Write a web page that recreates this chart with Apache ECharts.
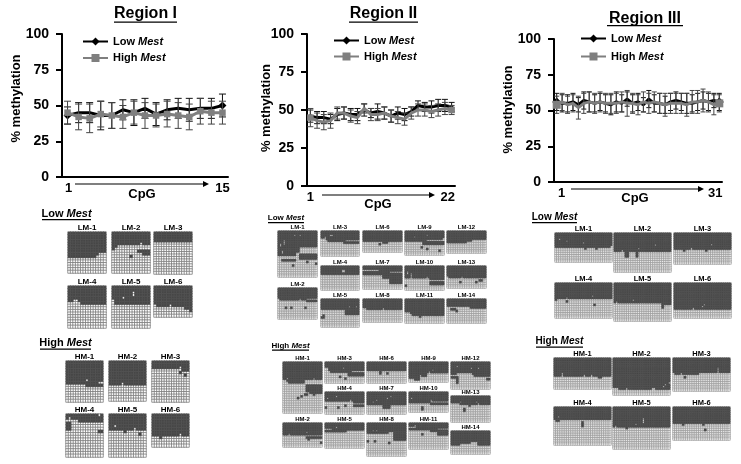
<!DOCTYPE html>
<html>
<head>
<meta charset="utf-8">
<title>Region I-III methylation</title>
<script src="https://cdn.jsdelivr.net/npm/echarts@6/dist/echarts.min.js"></script>
<style>
  html, body { margin: 0; padding: 0; background: #fff; }
  #chart { width: 741px; height: 464px; }
</style>
</head>
<body>
<div id="chart"></div>
<script>
// Line chart values
const cpgI = ['1','2','3','4','5','6','7','8','9','10','11','12','13','14','15'];
const lowI = [43,45,45,43,43,47,45,48,44,47,48,47,48,48,50];
const lowErrI = [6,7,7,10,9,7,9,7,8,7,7,8,7,7,8];
const highI = [45,42,41,44,43,42,45,43,43,44,43,42,46,45,45];
const highErrI = [8,9,10,9,9,8,8,9,8,9,9,9,9,8,8];

const cpgII = ['1','2','3','4','5','6','7','8','9','10','11','12','13','14','15','16','17','18','19','20','21','22'];
const lowII = [46,45,45,44,47,48,47,47,50,48,49,48,46,48,47,49,53,52,52,53,53,52];
const lowErrII = [4,4,4,3,4,4,4,4,4,3,5,4,4,4,4,3,3,3,4,4,4,3];
const highII = [45,43,42,43,48,48,46,45,51,47,47,48,46,45,44,48,50,50,49,50,51,50];
const highErrII = [6,5,5,5,4,4,4,4,3,4,4,4,4,4,4,4,4,4,4,4,4,3];

const cpgIII = ['1','2','3','4','5','6','7','8','9','10','11','12','13','14','15','16','17','18','19','20','21','22','23','24','25','26','27','28','29','30','31'];
const lowIII = [56,55,55,56,54,57,56,55,56,55,54,56,55,58,55,56,54,58,55,55,54,56,57,56,55,55,56,57,56,57,56];
const lowErrIII = [6,6,6,6,5,6,7,6,6,6,7,7,6,5,6,6,5,6,6,7,6,6,6,6,7,6,6,6,6,5,6];
const highIII = [54,56,54,55,52,55,56,55,56,55,55,55,56,55,55,54,56,55,56,55,54,55,55,55,54,56,56,57,56,54,55];
const highErrIII = [6,6,6,6,8,7,7,7,7,7,7,7,7,9,7,7,7,7,7,7,8,7,7,7,8,8,8,8,7,7,6];

// Bisulfite clone panels: [name, rows, runs of [columns, methylated rows from the top], toggled cells [c0,c1,r0,r1]]
const panelsI = [
  ['LM-1',16,[[11,10],[1,9],[3,8]],[]],
  ['LM-2',16,[[1,7],[1,6],[13,5]],[[11,11,4,4],[10,14,7,7],[12,14,8,8],[7,7,9,9]]],
  ['LM-3',17,[[15,4]],[]],
  ['LM-4',16,[[2,6],[2,5],[1,6],[10,7]],[]],
  ['LM-5',16,[[1,5],[14,7]],[[4,4,4,4],[8,8,2,3]]],
  ['LM-6',12,[[1,7],[11,8],[2,9],[1,10]],[[6,6,7,7]]],
  ['HM-1',16,[[8,9],[7,10]],[[8,8,7,7],[13,14,8,8]]],
  ['HM-2',15,[[15,9]],[[5,5,8,8]]],
  ['HM-3',16,[[12,3],[3,4]],[[11,11,2,2],[11,11,4,4],[13,13,5,5]]],
  ['HM-4',16,[[15,3]],[[1,1,1,1],[0,4,2,2],[0,1,3,5],[13,13,0,0],[13,14,6,6]]],
  ['HM-5',16,[[15,6]],[[2,2,4,4],[10,10,5,5],[6,6,6,6],[12,12,7,7]]],
  ['HM-6',12,[[15,8]],[[11,11,7,7],[3,3,8,8]]],
];
const panelsII = [
  ['LM-1',26,[[10,14],[2,12],[10,9]],[[3,3,5,7],[1,1,7,8],[2,2,11,12],[9,9,2,2],[12,12,2,2],[2,9,16,16],[12,21,13,15],[8,8,19,19],[16,16,17,17],[21,21,18,18]]],
  ['LM-2',18,[[1,6],[15,7],[6,8]],[[16,21,6,6],[4,4,11,11],[7,7,11,11],[15,15,11,11],[12,12,6,6]]],
  ['LM-3',14,[[3,4],[1,5],[10,6],[8,7]],[[14,21,5,5],[2,2,3,3],[5,6,2,2],[13,13,6,6]]],
  ['LM-4',14,[[22,5]],[[12,13,2,3]]],
  ['LM-5',16,[[14,6],[8,9]],[[16,16,4,4],[20,20,4,4],[0,1,10,10],[1,1,9,9]]],
  ['LM-6',12,[[11,6],[3,7],[8,6]],[[9,9,7,7]]],
  ['LM-7',13,[[11,5],[4,7],[7,10]],[[0,8,2,2],[15,21,3,3]]],
  ['LM-8',13,[[2,5],[20,6]],[[11,11,5,5]]],
  ['LM-9',14,[[10,6],[12,8]],[[12,21,5,5],[5,5,3,3],[12,12,2,2],[9,9,9,9],[12,12,10,10],[19,19,11,11],[21,21,4,4]]],
  ['LM-10',14,[[14,7],[8,11]],[[1,1,3,4],[3,3,4,6],[12,12,6,6],[14,21,8,8],[0,0,11,11]]],
  ['LM-11',13,[[3,7],[1,8],[18,9]],[[8,8,9,9]]],
  ['LM-12',13,[[11,7],[3,6],[8,5]],[]],
  ['LM-13',13,[[1,6],[21,7]],[[8,8,6,6],[7,7,9,9],[16,16,9,9],[18,19,8,8]]],
  ['LM-14',13,[[13,4],[9,5]],[[2,4,5,5],[5,5,6,6]]],
  ['HM-1',29,[[2,10],[1,11],[9,12],[10,10]],[[2,2,9,9],[13,21,13,16],[15,21,17,17],[8,8,20,20],[10,10,19,19],[12,13,18,18],[17,17,18,18],[17,17,9,9]]],
  ['HM-2',14,[[13,7],[9,9]],[[13,21,7,7],[3,3,6,6],[13,13,5,5],[14,14,9,9],[21,21,11,11]]],
  ['HM-3',12,[[2,3],[1,5],[10,6],[9,8]],[[15,21,5,5],[10,10,3,3],[8,8,8,8],[11,11,9,9]]],
  ['HM-4',12,[[16,5],[6,8]],[[16,21,6,6],[1,1,3,3],[6,6,2,2],[0,0,8,8],[7,7,8,8],[11,11,7,7],[14,14,4,4]]],
  ['HM-5',14,[[12,5],[10,4]],[[3,3,3,3],[6,6,2,2],[0,2,3,3]]],
  ['HM-6',12,[[22,5]],[[7,7,5,6],[11,11,6,6]]],
  ['HM-7',12,[[9,7],[4,9],[9,7]],[[3,3,5,5],[5,5,4,4],[11,11,3,3],[13,13,2,2]]],
  ['HM-8',19,[[12,6],[3,5],[7,10]],[[3,3,4,4],[5,5,4,4],[0,0,10,10],[4,4,10,10],[12,12,11,11]]],
  ['HM-9',11,[[3,9],[3,10],[4,8],[12,6]],[[6,6,7,7],[11,11,5,5],[13,13,4,4]]],
  ['HM-10',11,[[12,6],[10,7]],[[1,1,3,3],[12,21,5,5],[7,7,8,9],[12,12,4,4]]],
  ['HM-11',15,[[12,4],[4,5],[6,7]],[[0,3,2,2],[3,3,1,1],[16,21,3,3],[7,7,6,6]]],
  ['HM-12',15,[[13,7],[9,8]],[[3,3,2,2],[11,11,3,3],[15,15,3,3],[3,11,6,6],[0,3,8,8],[3,3,9,11],[20,21,9,9]]],
  ['HM-13',15,[[5,4],[17,5]],[[5,5,3,3],[7,7,7,8],[10,10,5,5],[14,14,3,3],[15,15,4,4]]],
  ['HM-14',13,[[11,7],[4,6],[7,8]],[[0,4,7,7]]],
];
const panelsIII = [
  ['LM-1',16,[[31,8]],[[2,2,3,3],[6,6,4,4],[15,15,5,5],[30,30,7,7],[16,16,8,8],[22,22,8,8]]],
  ['LM-2',21,[[31,10]],[[4,4,9,9],[13,13,8,8],[22,22,6,6],[6,7,10,12],[12,12,10,12]]],
  ['LM-3',17,[[31,9]],[[5,5,9,9],[17,17,9,9],[9,9,8,8],[20,20,6,6]]],
  ['LM-4',20,[[31,9]],[[0,0,9,9],[6,6,10,10],[6,6,8,8],[20,20,7,7],[21,21,12,12]]],
  ['LM-5',21,[[26,11],[5,12]],[[1,1,10,10],[10,10,9,9],[26,26,12,13]]],
  ['LM-6',20,[[31,15]],[[10,10,14,14],[15,15,13,13],[16,16,12,12]]],
  ['HM-1',17,[[31,10]],[[4,4,8,9],[16,16,9,9],[20,20,9,9],[24,25,10,10]]],
  ['HM-2',20,[[3,16],[28,17]],[[7,7,16,16],[21,21,16,16],[27,27,15,15],[28,28,14,14],[30,30,13,13],[22,22,16,16]]],
  ['HM-3',18,[[14,9],[17,8]],[[4,4,8,8],[0,0,8,8],[6,6,10,10],[24,24,5,7]]],
  ['HM-4',21,[[31,7]],[[1,2,7,7],[2,2,5,5],[15,15,8,10]]],
  ['HM-5',23,[[31,11]],[[1,1,10,10],[12,12,9,9],[16,16,6,8],[7,7,11,11]]],
  ['HM-6',18,[[31,9]],[[5,5,9,9],[16,16,9,9],[17,17,12,12]]],
];

// Panel boxes in pixels, same order as the panels: [left, top, width, height]
const boxesI = [
  [68,232,38,41],[112,232,38,41],[154,232,38,42],[68,286,38,42],[112,286,38,42],[154,286,38,31],
  [66,361,37,41],[109,361,37,40],[152,361,37,41],[66,414,37,43],[109,414,37,43],[152,414,37,33],
];
const boxesII = [
  [278,231,39,46],[278,288,39,31],[321,231,38,25],[321,266,38,24],[321,299,38,28],[363,231,39,21],[363,266,39,23],
  [363,299,39,23],[405,231,39,24],[405,266,39,24],[405,299,39,24],[447,231,39,22],[447,266,39,22],[447,299,39,24],
  [283,362,39,51],[283,423,39,24],[325,362,39,21],[325,392,39,22],[325,423,39,25],[367,362,39,21],[367,392,39,22],
  [367,423,39,33],[409,362,39,20],[409,392,39,20],[409,423,39,26],[451,362,39,27],[451,396,39,26],[451,431,39,23],
];
const boxesIII = [
  [555,233,57,29],[614,233,57,39],[674,233,57,31],[555,283,57,35],[614,283,57,38],[674,283,57,35],
  [554,358,57,31],[613,358,57,37],[673,358,57,33],[554,407,57,38],[613,407,57,42],[673,407,57,33],
];

const FONT = '"Liberation Sans", Arial, sans-serif';
const DARK = '#464646';
const GREY = '#7f7f7f';

const option = {
  animation: false,
  backgroundColor: '#fff',
  textStyle: { fontFamily: FONT },
  grid: [], xAxis: [], yAxis: [], series: [], legend: [], graphic: [],
};
const gfx = option.graphic;

function addText(text, x, y, size, rich) {
  gfx.push({ type: 'text', x, y, silent: true, style: {
    text, fontFamily: FONT, fontWeight: 'bold', fontSize: size, fill: '#000',
    textAlign: 'center', textVerticalAlign: 'middle', rich,
  } });
}

// Bold heading with a hand drawn underline
function addHeading(text, cx, cy, size, width, lineY, rich) {
  addText(text, cx, cy, size, rich);
  gfx.push({ type: 'rect', silent: true, shape: { x: cx - width / 2, y: lineY, width, height: 1.2 }, style: { fill: '#000' } });
}

function mestHeading(word, cx, cy, size, width, lineY) {
  const s = { fontFamily: FONT, fontWeight: 'bold', fontSize: size, fill: '#000' };
  addHeading(`{a|${word} }{b|Mest}`, cx, cy, size, width, lineY, { a: s, b: { ...s, fontStyle: 'italic' } });
}

function addArrow(x0, x1, y) {
  gfx.push({ type: 'line', silent: true, shape: { x1: x0, y1: y, x2: x1 - 5, y2: y }, style: { stroke: '#000', lineWidth: 1.2 } });
  gfx.push({ type: 'polygon', silent: true, shape: { points: [[x1 - 6, y - 3], [x1, y], [x1 - 6, y + 3]] }, style: { fill: '#000' } });
}

function errorSeries(gridIndex, cats, means, errs, color, capW, z) {
  return {
    type: 'custom', xAxisIndex: gridIndex, yAxisIndex: gridIndex, z, silent: true,
    data: cats.map((c, i) => [i, means[i] - errs[i], means[i] + errs[i]]),
    encode: { x: 0, y: [1, 2] },
    renderItem(params, api) {
      const lo = api.coord([api.value(0), api.value(1)]);
      const hi = api.coord([api.value(0), api.value(2)]);
      const st = { stroke: color, lineWidth: 1 };
      return { type: 'group', children: [
        { type: 'line', shape: { x1: lo[0], y1: lo[1], x2: hi[0], y2: hi[1] }, style: st },
        { type: 'line', shape: { x1: lo[0] - capW, y1: lo[1], x2: lo[0] + capW, y2: lo[1] }, style: st },
        { type: 'line', shape: { x1: hi[0] - capW, y1: hi[1], x2: hi[0] + capW, y2: hi[1] }, style: st },
      ] };
    },
  };
}

function addLineChart(c) {
  const i = option.grid.length;
  const last = c.cats.length - 1;
  option.grid.push({ left: c.left, top: c.top, width: c.width, height: c.height });
  option.xAxis.push({
    type: 'category', gridIndex: i, data: c.cats, boundaryGap: true,
    name: 'CpG', nameLocation: 'middle', nameGap: c.nameGap, nameMoveOverlap: false,
    nameTextStyle: { fontFamily: FONT, fontWeight: 'bold', fontSize: 13, color: '#000', padding: [0, 6, 0, 0] },
    axisLine: { onZero: false, lineStyle: { color: '#000', width: 2 } },
    axisTick: { show: false },
    axisLabel: {
      margin: 5, interval: (idx) => idx === 0 || idx === last, color: '#000',
      formatter: (v, idx) => (idx === 0 ? `{a|${v}}` : `{b|${v}}`),
      rich: {
        a: { fontFamily: FONT, fontWeight: 'bold', fontSize: 13, color: '#000', padding: [0, 0, 0, c.firstPad] },
        b: { fontFamily: FONT, fontWeight: 'bold', fontSize: 13, color: '#000', padding: [0, c.lastPad, 0, 0] },
      },
    },
  });
  option.yAxis.push({
    type: 'value', gridIndex: i, min: 0, max: 100, interval: 25,
    name: '% methylation', nameLocation: 'middle', nameGap: c.yNameGap, nameRotate: 90, nameMoveOverlap: false,
    nameTextStyle: { fontFamily: FONT, fontWeight: 'bold', fontSize: 13, color: '#000', padding: [0, 0, 0, c.yNamePad] },
    splitLine: { show: false },
    axisLine: { show: true, lineStyle: { color: '#000', width: 2 } },
    axisTick: { show: true, length: 6, lineStyle: { color: '#000', width: 2 } },
    axisLabel: { margin: 13, fontFamily: FONT, fontWeight: 'bold', fontSize: 14, color: '#000' },
  });
  option.series.push(errorSeries(i, c.cats, c.low, c.lowErr, '#111', c.capW, 3));
  option.series.push({
    type: 'line', name: 'Low Mest', xAxisIndex: i, yAxisIndex: i, data: c.low, z: 4,
    symbol: 'diamond', symbolSize: c.lowSize, lineStyle: { color: '#000', width: 3 }, itemStyle: { color: '#000' },
  });
  option.series.push(errorSeries(i, c.cats, c.high, c.highErr, '#444', c.capW, 5));
  option.series.push({
    type: 'line', name: 'High Mest', xAxisIndex: i, yAxisIndex: i, data: c.high, z: 6,
    symbol: 'rect', symbolSize: c.highSize, lineStyle: { color: GREY, width: 3 }, itemStyle: { color: GREY },
  });
  const txt = { fontFamily: FONT, fontWeight: 'bold', fontSize: 11, color: '#000' };
  option.legend.push({
    left: c.legendLeft, top: c.legendTop, orient: 'vertical', padding: 0, itemGap: c.legendGap,
    itemWidth: 25, itemHeight: 10, selectedMode: false,
    data: ['Low Mest', 'High Mest'],
    formatter: (name) => `{a|${name.split(' ')[0]} }{b|Mest}`,
    textStyle: { ...txt, rich: { a: txt, b: { ...txt, fontStyle: 'italic' } } },
  });
}

function addPanel(panel, box, fontSize, gridColor, gridWidth) {
  const [name, rows, runs, toggles] = panel;
  const [left, top, width, height] = box;
  const depth = runs.flatMap(([n, d]) => Array(n).fill(d));
  const cols = depth.map((d, i) => i);
  const rowCats = Array.from({ length: rows }, (d, i) => i);
  const cells = rowCats.map((r) => cols.map((c) => (r < depth[c] ? 1 : 0)));
  toggles.forEach(([c0, c1, r0, r1]) => {
    for (let r = r0; r <= r1; r++) for (let c = c0; c <= c1; c++) cells[r][c] = 1 - cells[r][c];
  });
  const all = rowCats.flatMap((r) => cols.map((c) => [c, r, cells[r][c]]));
  const i = option.grid.length;
  option.grid.push({ left, top, width, height });
  option.xAxis.push({ type: 'category', gridIndex: i, data: cols, show: false });
  option.yAxis.push({ type: 'category', gridIndex: i, data: rowCats, inverse: true, show: false });
  // white clones first, methylated cells on top of them
  option.series.push({
    type: 'heatmap', xAxisIndex: i, yAxisIndex: i, progressive: 0, silent: true, z: 2,
    itemStyle: { color: '#fff', borderColor: gridColor, borderWidth: gridWidth },
    data: all.filter((d) => d[2] === 0),
  });
  option.series.push({
    type: 'heatmap', xAxisIndex: i, yAxisIndex: i, progressive: 0, silent: true, z: 3,
    itemStyle: { color: DARK, borderColor: '#585858', borderWidth: 0.5 },
    data: all.filter((d) => d[2] === 1),
  });
  addText(name, left + width / 2, top - 4, fontSize);
}

addLineChart({ cats: cpgI, low: lowI, lowErr: lowErrI, high: highI, highErr: highErrI,
  left: 62, top: 34, width: 166, height: 143, nameGap: 11, yNameGap: 39, yNamePad: 14, firstPad: 2, lastPad: 0, capW: 3.5,
  lowSize: 8, highSize: 6.5, legendLeft: 82, legendTop: 36, legendGap: 5.5 });
addLineChart({ cats: cpgII, low: lowII, lowErr: lowErrII, high: highII, highErr: highErrII,
  left: 307, top: 34, width: 148, height: 152, nameGap: 12, yNameGap: 34, yNamePad: 4, firstPad: 0, lastPad: 8, capW: 3,
  lowSize: 4.5, highSize: 6.5, legendLeft: 333, legendTop: 35, legendGap: 5 });
addLineChart({ cats: cpgIII, low: lowIII, lowErr: lowErrIII, high: highIII, highErr: highErrIII,
  left: 554, top: 39, width: 168, height: 143, nameGap: 9.5, yNameGap: 39, yNamePad: 2, firstPad: 10, lastPad: 8, capW: 2.5,
  lowSize: 9, highSize: 8, legendLeft: 580, legendTop: 33, legendGap: 7 });

panelsI.forEach((p, i) => addPanel(p, boxesI[i], 8, '#707070', 0.7));
panelsII.forEach((p, i) => addPanel(p, boxesII[i], 6, '#8c8c8c', 0.6));
panelsIII.forEach((p, i) => addPanel(p, boxesIII[i], 7.5, '#8c8c8c', 0.6));

addHeading('Region I', 145.5, 14, 16, 63, 21.5);
addHeading('Region II', 383.5, 14, 16, 69, 21.5);
addHeading('Region III', 645, 18.5, 16, 76, 25);
addArrow(75, 209, 184);
addArrow(322, 435, 195);
addArrow(571, 704, 189);
mestHeading('Low', 66.5, 214, 11, 49, 219);
mestHeading('High', 65.5, 343, 11, 51, 348.5);
mestHeading('Low', 286, 218, 8, 36, 222);
mestHeading('High', 290.5, 345.5, 8, 37, 349.5);
mestHeading('Low', 554.5, 217, 10, 45, 222);
mestHeading('High', 559.5, 341.5, 10, 47, 346.5);

const chart = echarts.init(document.getElementById('chart'), null, { renderer: 'canvas' });
chart.setOption(option);
</script>
</body>
</html>
